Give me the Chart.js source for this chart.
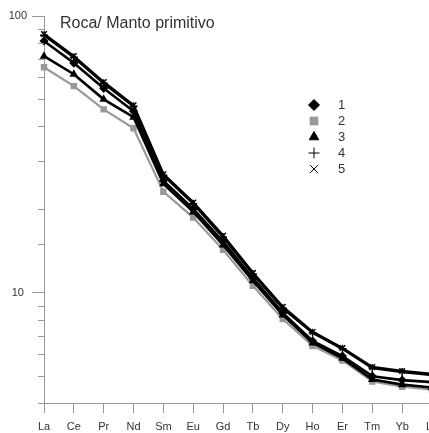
<!DOCTYPE html>
<html>
<head>
<meta charset="utf-8">
<script src="https://cdn.jsdelivr.net/npm/chart.js@4/dist/chart.umd.min.js"></script>
<style>
  html, body { margin: 0; padding: 0; background: #fff; overflow: hidden; width: 429px; height: 433px; }
  canvas { display: block; }
</style>
</head>
<body>
<canvas id="c" width="460" height="433"></canvas>
<script>
// REE pattern normalised to primitive mantle
const elements = ["La", "Ce", "Pr", "Nd", "Sm", "Eu", "Gd", "Tb", "Dy", "Ho", "Er", "Tm", "Yb", "Lu"];
const s1 = [81.2, 67.6, 54.8, 45.3, 25.4, 20.1, 15.3, 11.3, 8.46, 6.70, 5.91, 5.00, 4.84, 4.76];
const s2 = [65.3, 55.8, 46.0, 39.3, 23.2, 18.7, 14.3, 10.6, 8.05, 6.43, 5.70, 4.78, 4.58, 4.47];
const s3 = [71.6, 61.6, 50.0, 43.1, 24.8, 19.6, 14.9, 11.05, 8.32, 6.59, 5.80, 4.86, 4.66, 4.55];
const s4 = [85.2, 71.0, 57.2, 47.2, 26.6, 21.0, 15.9, 11.7, 8.80, 7.18, 6.28, 5.35, 5.18, 5.05];
const s5 = [86.0, 71.6, 57.7, 47.6, 26.8, 21.2, 16.1, 11.8, 8.90, 7.22, 6.32, 5.39, 5.22, 5.09];
const yMajor = [10, 100];
const title = "Roca/ Manto primitivo";

const AX = "#999";
const TXT = "#333";
const FONT = "'Liberation Sans', Arial, sans-serif";

const series = [
  { label: "1", data: s1, color: "#000", style: "rectRot", r: 3.5 },
  { label: "2", data: s2, color: "#999", style: "rect", r: 3.5 },
  { label: "3", data: s3, color: "#000", style: "triangle", r: 3.5 },
  { label: "4", data: s4, color: "#000", style: "cross", r: 4 },
  { label: "5", data: s5, color: "#000", style: "crossRot", r: 4 },
];

const overlay = {
  id: "overlay",
  afterDraw(chart) {
    const ctx = chart.ctx, y = chart.scales.y, a = chart.chartArea;
    ctx.save();
    // minor ticks on the log axis
    ctx.strokeStyle = AX; ctx.lineWidth = 1;
    y.ticks.forEach((t) => {
      if (yMajor.includes(t.value)) return;
      const py = Math.round(y.getPixelForValue(t.value)) + 0.5;
      ctx.beginPath(); ctx.moveTo(a.left - 6, py); ctx.lineTo(a.left, py); ctx.stroke();
    });
    // x axis line runs a little past the y axis
    ctx.beginPath(); ctx.moveTo(a.left - 6, Math.round(a.bottom) + 0.5); ctx.lineTo(a.left, Math.round(a.bottom) + 0.5); ctx.stroke();
    // title inside the plot
    ctx.fillStyle = TXT;
    ctx.font = "16px " + FONT;
    ctx.textBaseline = "alphabetic";
    ctx.fillText(title, 60, 28);
    // legend
    ctx.font = "13px " + FONT;
    ctx.textBaseline = "middle";
    series.forEach((s, i) => {
      const ly = 105 + i * 16;
      ctx.fillStyle = s.color; ctx.strokeStyle = s.color;
      Chart.helpers.drawPoint(ctx, { pointStyle: s.style, radius: 5.5, borderWidth: 2, rotation: 0 }, 314, ly);
      ctx.fillStyle = TXT;
      ctx.fillText(s.label, 338, ly);
    });
    ctx.restore();
  },
};

new Chart(document.getElementById("c"), {
  type: "line",
  data: {
    labels: elements,
    datasets: series.map((s) => ({
      label: s.label, data: s.data,
      borderColor: s.color, backgroundColor: s.color,
      borderWidth: s.label === "2" ? 2.2 : 2.6,
      order: s.label === "2" ? 10 : 1,
      pointStyle: s.style, pointRadius: s.r, pointBorderWidth: 1.5,
      pointBackgroundColor: s.color, pointBorderColor: s.color,
      tension: 0, fill: false,
    })),
  },
  options: {
    responsive: false, animation: false, devicePixelRatio: 1,
    layout: { padding: { top: 16, right: 28, left: 0, bottom: 0 } },
    plugins: { legend: { display: false }, tooltip: { enabled: false } },
    scales: {
      x: {
        type: "category", offset: false,
        border: { display: true, color: AX, width: 1 },
        grid: { drawOnChartArea: false, drawTicks: true, tickLength: 10, color: AX, tickColor: AX },
        ticks: { color: TXT, font: { family: FONT, size: 11 }, padding: 7, autoSkip: false, maxRotation: 0 },
        afterFit: (s) => { s.height = 30; },
      },
      y: {
        type: "logarithmic", min: 4, max: 100,
        border: { display: true, color: AX, width: 1 },
        grid: { drawOnChartArea: false, drawTicks: true, tickLength: 12,
                tickColor: (c) => (c.tick && yMajor.includes(c.tick.value) ? AX : "rgba(0,0,0,0)") },
        ticks: {
          color: TXT, font: { family: FONT, size: 11 }, padding: 5, crossAlign: "center", autoSkip: false,
          callback: (v) => (yMajor.includes(v) ? String(v) : ""),
        },
        afterFit: (s) => { s.width = 44; },
      },
    },
  },
  plugins: [overlay],
});
</script>
</body>
</html>
